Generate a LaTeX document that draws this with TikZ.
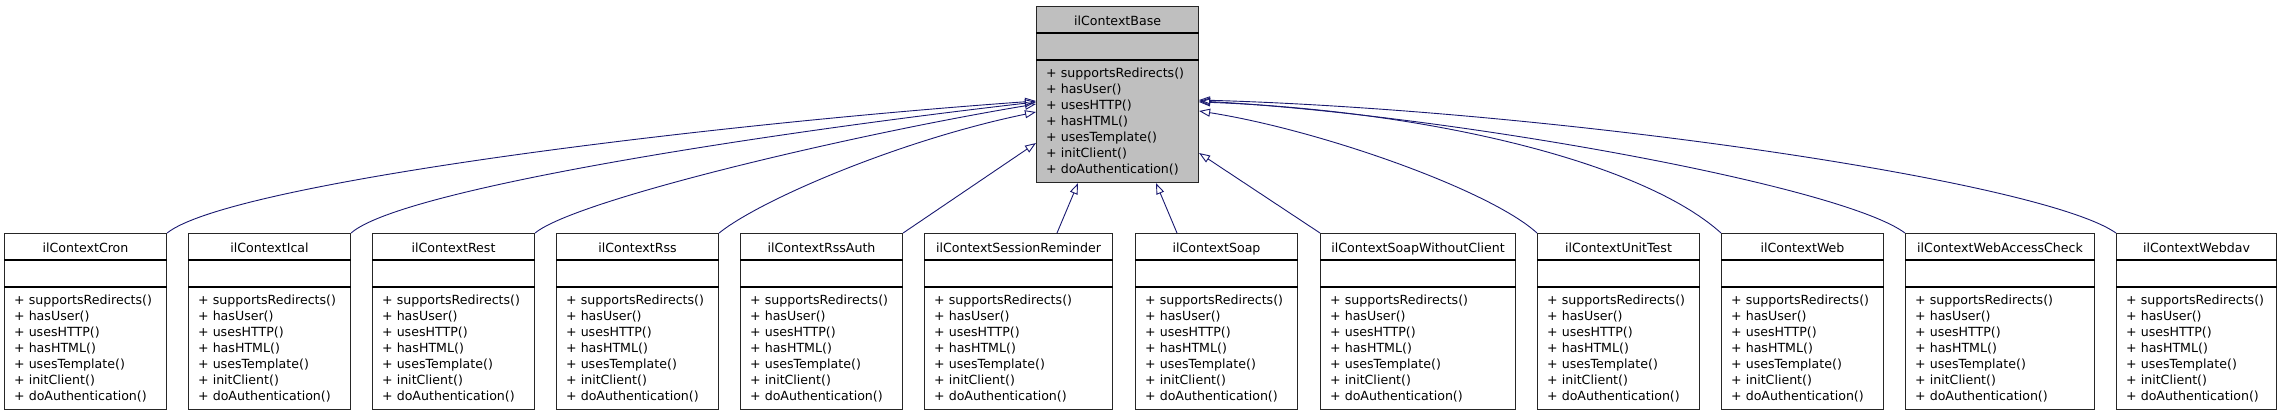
\documentclass[tikz,border=0pt]{standalone}
\usepackage{fontspec}
\setmainfont{DejaVu Sans}
\usetikzlibrary{arrows.meta}
\definecolor{edgeblue}{HTML}{191970}
\definecolor{basegray}{HTML}{BFBFBF}
\tikzset{
  classbox/.style={draw=black!85, line width=1.1pt, rectangle, inner sep=0pt, minimum height=176pt},
  divider/.style={draw=black, line width=1.6pt},
  titletext/.style={inner sep=0pt, anchor=base, font=\fontsize{12.6}{16}\selectfont},
  memtext/.style={inner sep=0pt, anchor=base west, align=left, font=\fontsize{12.6}{16}\selectfont},
  inherit/.style={draw=edgeblue, line width=0.9pt, -{Triangle[open, length=11pt, width=8pt]}},
}
\newcommand\memberlist{+ supportsRedirects()\\+ hasUser()\\+ usesHTTP()\\+ hasHTML()\\+ usesTemplate()\\+ initClient()\\+ doAuthentication()}
% #1 name, #2 left x, #3 top y, #4 width, #5 title, #6 fill
\newcommand\umlclass[6]{%
  \node[classbox, fill=#6, minimum width=#4pt, anchor=north west] (#1) at (#2,#3) {};
  \node[titletext] (#1-title) at ([yshift=-19pt]#1.north) {#5};
  \draw[divider] ([yshift=-27pt]#1.north west) -- ([yshift=-27pt]#1.north east);
  \draw[divider] ([yshift=-54pt]#1.north west) -- ([yshift=-54pt]#1.north east);
  \node[memtext] (#1-members) at ([xshift=10pt,yshift=-167pt]#1.north west) {\memberlist};
}
\begin{document}
\begin{tikzpicture}[x=1pt,y=-1pt]
\useasboundingbox (0,0) rectangle (2283,416);
\umlclass{base}{1036}{6}{162}{ilContextBase}{basegray}
\umlclass{cron}{4}{233}{162}{ilContextCron}{white}
\umlclass{ical}{188}{233}{162}{ilContextIcal}{white}
\umlclass{rest}{372}{233}{162}{ilContextRest}{white}
\umlclass{rss}{556}{233}{162}{ilContextRss}{white}
\umlclass{rssauth}{740}{233}{162}{ilContextRssAuth}{white}
\umlclass{sessrem}{924}{233}{188}{ilContextSessionReminder}{white}
\umlclass{soap}{1135}{233}{162}{ilContextSoap}{white}
\umlclass{soapwc}{1320}{233}{195}{ilContextSoapWithoutClient}{white}
\umlclass{unittest}{1537}{233}{162}{ilContextUnitTest}{white}
\umlclass{web}{1721}{233}{162}{ilContextWeb}{white}
\umlclass{webacc}{1905}{233}{189}{ilContextWebAccessCheck}{white}
\umlclass{webdav}{2116}{233}{160}{ilContextWebdav}{white}
% left side
\draw[inherit] (cron.north east) .. controls (230,183) and (700,125) .. ([yshift=-95pt]base.north west);
\draw[inherit] (ical.north east) .. controls (400,190) and (750,135) .. ([yshift=-96pt]base.north west);
\draw[inherit] (rest.north east) .. controls (575,200) and (850,135) .. ([yshift=-98pt]base.north west);
\draw[inherit] (rss.north east) .. controls (760,200) and (900,140) .. ([yshift=-106pt]base.north west);
\draw[inherit] (rssauth.north east) -- ([yshift=-137pt]base.north west);
% bottom
\draw[inherit] ([xshift=133pt]sessrem.north west) -- ([xshift=42pt]base.south west);
\draw[inherit] ([xshift=42pt]soap.north west) -- ([xshift=120pt]base.south west);
% right side
\draw[inherit] (soapwc.north west) -- ([yshift=-147pt]base.north east);
\draw[inherit] (unittest.north west) .. controls (1490,190) and (1320,130) .. ([yshift=-105pt]base.north east);
\draw[inherit] (web.north west) .. controls (1640,160) and (1420,110) .. ([yshift=-96pt]base.north east);
\draw[inherit] (webacc.north west) .. controls (1840,185) and (1450,115) .. ([yshift=-95pt]base.north east);
\draw[inherit] (webdav.north west) .. controls (2040,180) and (1550,110) .. ([yshift=-94pt]base.north east);
\end{tikzpicture}
\end{document}
